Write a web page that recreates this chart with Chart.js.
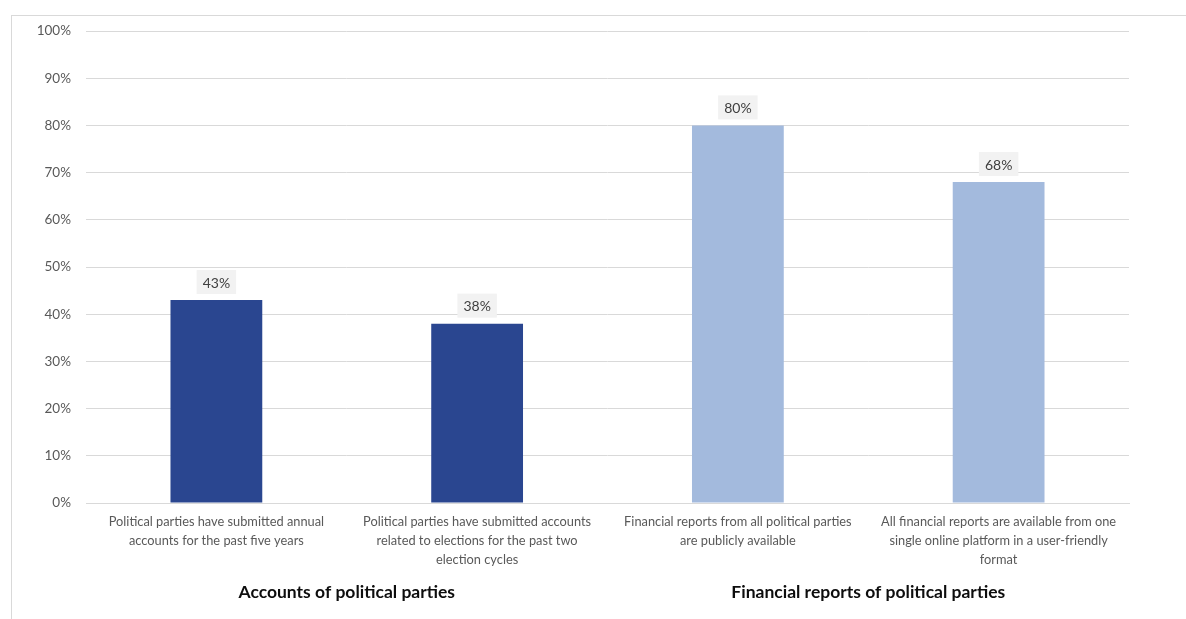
<!DOCTYPE html>
<html>
<head>
<meta charset="utf-8">
<script src="https://cdn.jsdelivr.net/npm/chart.js@4.4.1/dist/chart.umd.min.js"></script>
<style>
  html, body { margin: 0; padding: 0; background: #fff; }
  #frame {
    position: absolute; left: 11px; top: 15px;
    width: 1175px; height: 604px;
    border-left: 1px solid #d9d9d9; border-top: 1px solid #d9d9d9;
  }
  #chart { display: block; }
</style>
</head>
<body>
<div id="frame"><canvas id="chart" width="1174" height="603"></canvas></div>
<script>
// survey results, % of countries
const categories = [
  ['Political parties have submitted annual', 'accounts for the past five years'],
  ['Political parties have submitted accounts', 'related to elections for the past two', 'election cycles'],
  ['Financial reports from all political parties', 'are publicly available'],
  ['All financial reports are available from one', 'single online platform in a user-friendly', 'format']
];
const groups = ['Accounts of political parties', 'Financial reports of political parties'];
const values = [43, 38, 80, 68];
const barColors = ['#2a4690', '#2a4690', '#a3badd', '#a3badd'];
const yTicks = [0, 10, 20, 30, 40, 50, 60, 70, 80, 90, 100];

const FONT = 'Lato, "Open Sans", sans-serif';

// value boxes on top of each bar
const valueBoxes = {
  id: 'valueBoxes',
  afterDatasetsDraw(chart) {
    const ctx = chart.ctx;
    const meta = chart.getDatasetMeta(0);
    ctx.save();
    ctx.font = '14px ' + FONT;
    ctx.textAlign = 'center';
    ctx.textBaseline = 'middle';
    meta.data.forEach((bar, i) => {
      const txt = values[i] + '%';
      const w = ctx.measureText(txt).width + 12;
      const h = 24;
      const bottom = bar.y - 6;
      ctx.fillStyle = '#f2f2f2';
      ctx.fillRect(bar.x - w / 2, bottom - h, w, h);
      ctx.fillStyle = '#404040';
      ctx.fillText(txt, bar.x, bottom - h / 2 + 1);
    });
    ctx.restore();
  }
};

new Chart(document.getElementById('chart'), {
  type: 'bar',
  data: {
    labels: categories,
    datasets: [{
      data: values,
      backgroundColor: barColors,
      barPercentage: 0.352,
      categoryPercentage: 1
    }]
  },
  options: {
    responsive: false,
    animation: false,
    layout: { padding: { top: 15, right: 57, left: 0, bottom: 0 } },
    plugins: { legend: { display: false }, tooltip: { enabled: false } },
    scales: {
      y: {
        min: 0, max: 100,
        afterBuildTicks: axis => { axis.ticks = yTicks.map(v => ({ value: v })); },
        afterFit: axis => { axis.width = 74; axis.paddingTop = 0; axis.paddingBottom = 0; },
        border: { display: false },
        grid: { color: '#d9d9d9', lineWidth: 1, drawTicks: false },
        ticks: {
          padding: 15,
          color: '#595959',
          font: { family: FONT, size: 13.5 },
          callback: v => v + '%'
        }
      },
      x: {
        border: { display: true, color: '#d9d9d9' },
        grid: { display: false, drawTicks: false },
        afterFit: axis => { axis.height = 72; axis.paddingLeft = 0; axis.paddingRight = 0; },
        ticks: {
          padding: 10,
          autoSkip: false,
          maxRotation: 0,
          color: '#595959',
          font: { family: FONT, size: 12.8, lineHeight: 1.45 }
        }
      },
      x2: {
        type: 'category',
        position: 'bottom',
        labels: groups,
        offset: true,
        border: { display: false },
        grid: { display: false, drawTicks: false },
        afterFit: axis => { axis.height = 44; axis.paddingLeft = 0; axis.paddingRight = 0; },
        ticks: {
          padding: 7,
          autoSkip: false,
          maxRotation: 0,
          color: '#0d0d0d',
          font: { family: FONT, size: 17.5, weight: 'bold' }
        }
      }
    }
  },
  plugins: [valueBoxes]
});
</script>
</body>
</html>
